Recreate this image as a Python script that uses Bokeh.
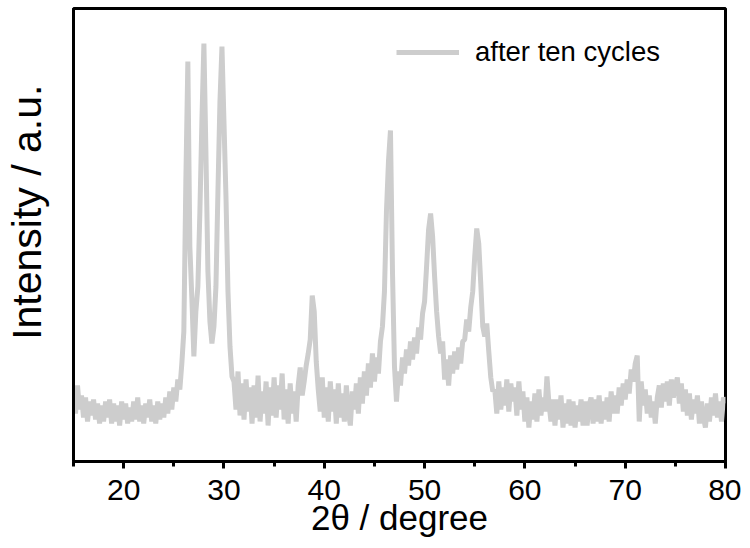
from bokeh.plotting import figure
from bokeh.models import SingleIntervalTicker, FixedTicker
from bokeh.embed import file_html
from bokeh.resources import INLINE

# XRD pattern "after ten cycles": intensity (a.u.) sampled every 0.2 degree from 15 to 80
two_theta_start = 15.0
two_theta_step = 0.2
intensity = [
    70, 48, 76, 52, 66,      # 15
    44, 64, 40, 60, 46,      # 16
    62, 42, 58, 38, 56,      # 17
    40, 60, 44, 62, 38,      # 18
    58, 40, 56, 36, 60,      # 19
    42, 58, 38, 54, 40,      # 20
    60, 42, 64, 40, 56,      # 21
    38, 58, 44, 62, 40,      # 22
    56, 38, 60, 42, 58,      # 23
    44, 64, 48, 70, 52,      # 24
    74, 60, 82, 72, 98,      # 25
    130, 280, 400, 215, 163, # 26
    105, 150, 175, 250, 340, # 27
    418, 310, 190, 140, 118, # 28
    135, 175, 270, 360, 415, # 29
    340, 265, 170, 115, 85,  # 30
    80, 52, 90, 46, 78,      # 31
    42, 82, 50, 74, 38,      # 32
    76, 44, 86, 40, 70,      # 33
    48, 80, 36, 74, 46,      # 34
    84, 44, 76, 52, 88,      # 35
    42, 72, 38, 78, 48,      # 36
    70, 40, 76, 94, 66,      # 37
    80, 96, 108, 122, 166,   # 38
    150, 100, 72, 50, 84,    # 39
    44, 74, 40, 80, 50,      # 40
    72, 38, 78, 44, 68,      # 41
    40, 76, 50, 36, 70,      # 42
    52, 78, 48, 84, 58,      # 43
    90, 66, 98, 74, 108,     # 44
    80, 104, 88, 120, 135,   # 45
    170, 250, 300, 331, 190, # 46
    95, 60, 90, 76, 104,     # 47
    88, 112, 96, 120, 102,   # 48
    124, 108, 134, 122, 148, # 49
    160, 195, 232, 248, 225, # 50
    185, 150, 125, 108, 120, # 51
    82, 102, 76, 106, 88,    # 52
    110, 92, 114, 98, 120,   # 53
    122, 142, 130, 154, 170, # 54
    205, 233, 218, 178, 135, # 55
    125, 138, 110, 84, 70,   # 56
    72, 48, 80, 52, 74,      # 57
    56, 82, 50, 78, 60,      # 58
    74, 46, 80, 52, 70,      # 59
    40, 64, 34, 60, 42,      # 60
    68, 40, 72, 46, 64,      # 61
    50, 85, 58, 40, 62,      # 62
    36, 62, 42, 66, 34,      # 63
    58, 38, 62, 36, 60,      # 64
    34, 56, 40, 62, 36,      # 65
    60, 36, 56, 64, 38,      # 66
    62, 40, 66, 38, 60,      # 67
    42, 64, 40, 70, 48,      # 68
    66, 48, 74, 56, 78,      # 69
    62, 82, 68, 92, 80,      # 70
    98, 106, 40, 80, 56,     # 71
    72, 48, 66, 44, 60,      # 72
    38, 64, 76, 54, 78,      # 73
    60, 80, 56, 82, 64,      # 74
    76, 84, 58, 78, 50,      # 75
    72, 46, 68, 42, 62,      # 76
    48, 66, 38, 60, 44,      # 77
    34, 58, 40, 64, 46,      # 78
    68, 44, 60, 40, 64,      # 79
    58,                      # 80
]
two_theta = [round(two_theta_start + i * two_theta_step, 1) for i in range(len(intensity))]
series_label = "after ten cycles"
y_title = "Intensity / a.u."
x_title = "2θ / degree"

FONT = "Liberation Sans"
GRAY = "#cdcdcd"

p = figure(width=741, height=544, x_range=(15, 80), y_range=(0, 453),
           output_backend="svg", toolbar_location=None,
           min_border_left=72, min_border_right=16, min_border_top=8, min_border_bottom=83)
p.background_fill_color = "white"
p.border_fill_color = "white"
p.outline_line_color = "black"
p.outline_line_width = 3
p.grid.visible = False

p.line(two_theta, intensity, line_color=GRAY, line_width=5, legend_label=series_label)

xa = p.xaxis[0]
xa.ticker = SingleIntervalTicker(interval=10, num_minor_ticks=2)
xa.axis_line_width = 3
xa.major_tick_line_width = 3
xa.minor_tick_line_width = 3
xa.major_tick_in = 0
xa.major_tick_out = 7
xa.minor_tick_in = 0
xa.minor_tick_out = 5
xa.major_label_text_font = FONT
xa.major_label_text_font_size = "30px"
xa.major_label_text_color = "black"
xa.major_label_standoff = 11
xa.axis_label = x_title
xa.axis_label_text_font = FONT
xa.axis_label_text_font_size = "35px"
xa.axis_label_text_font_style = "normal"
xa.axis_label_text_color = "black"
xa.axis_label_standoff = -5

ya = p.yaxis[0]
ya.ticker = FixedTicker(ticks=[])
ya.axis_line_width = 3
ya.major_tick_line_color = None
ya.minor_tick_line_color = None
ya.major_label_text_font_size = "0px"
# leading no-break spaces lift the centred label to where the reference draws it
ya.axis_label = "\u00a0" * 4 + y_title
ya.axis_label_text_font = FONT
ya.axis_label_text_font_size = "41px"
ya.axis_label_text_font_style = "normal"
ya.axis_label_text_color = "black"
ya.axis_label_standoff = 24

lg = p.legend[0]
lg.location = (323, 393)
lg.border_line_color = None
lg.background_fill_alpha = 0
lg.padding = 0
lg.margin = 0
lg.spacing = 0
lg.glyph_width = 63
lg.glyph_height = 28
lg.label_standoff = 16
lg.label_text_font = FONT
lg.label_text_font_size = "27.5px"
lg.label_text_color = "black"

open("out.html", "w").write(file_html(p, INLINE))
